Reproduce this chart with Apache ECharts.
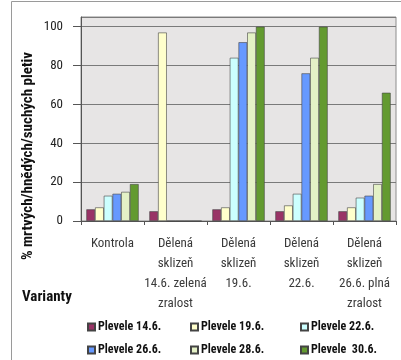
<!DOCTYPE html>
<html>
<head>
<meta charset="utf-8">
<script src="https://cdn.jsdelivr.net/npm/echarts@6/dist/echarts.min.js"></script>
<style>
  html, body { margin: 0; padding: 0; background: #ffffff; }
  #chart { width: 401px; height: 360px; }
</style>
</head>
<body>
<div id="chart"></div>
<script>
// Variants (harvest treatments) on the category axis
const categories = [
  'Kontrola',
  'Dělená\nsklizeň\n14.6. zelená\nzralost',
  'Dělená\nsklizeň\n19.6.',
  'Dělená\nsklizeň\n22.6.',
  'Dělená\nsklizeň\n26.6. plná\nzralost'
];

// Weed assessment dates (series names)
const seriesNames = ['Plevele 14.6.', 'Plevele 19.6.', 'Plevele 22.6.', 'Plevele 26.6.', 'Plevele 28.6.', 'Plevele  30.6.'];

// % of dead / brown / dry tissue per variant
const plevele146 = [6, 5, 6, 5, 5];
const plevele196 = [7, 97, 7, 8, 7];
const plevele226 = [13, 0, 84, 14, 12];
const plevele266 = [14, 0, 92, 76, 13];
const plevele286 = [15, 0, 97, 84, 19];
const plevele306 = [19, 0, 100, 100, 66];

const yTicks = [0, 20, 40, 60, 80, 100];

const seriesValues = [plevele146, plevele196, plevele226, plevele266, plevele286, plevele306];
const seriesColors = ['#993366', '#FFFFCC', '#CCFFFF', '#6699FF', '#E4F1C6', '#639A30'];

const FONT = "'Roboto Condensed', 'Open Sans Condensed', 'Liberation Sans', sans-serif";

const chart = echarts.init(document.getElementById('chart'), null, { renderer: 'canvas' });

// one legend per entry, laid out in a 3 x 2 table
const legendCols = [87, 190, 300];
const legendRows = [321, 344];
const legends = seriesNames.map((name, i) => ({
  data: [name],
  left: legendCols[i % 3],
  top: legendRows[Math.floor(i / 3)],
  itemWidth: 7,
  itemHeight: 7,
  itemGap: 0,
  padding: 0,
  icon: 'rect',
  selectedMode: false,
  textStyle: { fontFamily: FONT, fontWeight: 'bold', fontSize: 12, color: '#111', padding: [0, 0, 0, -2] }
}));

const option = {
  animation: false,
  backgroundColor: '#ffffff',
  textStyle: { fontFamily: FONT },
  grid: {
    left: 81, right: 5, top: 17, bottom: 139,
    show: true,
    backgroundColor: '#E7E5E5',
    borderColor: '#8c8c8c',
    borderWidth: 1
  },
  legend: legends,
  xAxis: {
    type: 'category',
    data: categories,
    axisLine: { show: true, lineStyle: { color: '#555', width: 1 } },
    axisTick: { show: true, length: 4, lineStyle: { color: '#555' } },
    axisLabel: {
      interval: 0,
      margin: 13,
      fontFamily: FONT,
      fontSize: 13,
      lineHeight: 20,
      color: '#3a3a3a',
      align: 'center'
    }
  },
  yAxis: {
    type: 'value',
    min: 0,
    max: 105,
    interval: 20,
    axisLine: { show: true, lineStyle: { color: '#555', width: 1 } },
    axisTick: { show: true, length: 8, lineStyle: { color: '#555' } },
    axisLabel: {
      margin: 18,
      fontFamily: FONT,
      fontSize: 13,
      color: '#222',
      showMaxLabel: false,
      formatter: v => (yTicks.indexOf(v) >= 0 ? String(v) : '')
    },
    splitLine: { show: true, lineStyle: { color: '#7a7a7a', width: 1 } }
  },
  series: seriesNames.map((name, i) => ({
    name: name,
    type: 'bar',
    data: seriesValues[i],
    barGap: '0%',
    barCategoryGap: '17%',
    itemStyle: { color: seriesColors[i], borderColor: '#444', borderWidth: 0.6 }
  })),
  graphic: [
    {
      type: 'rect',
      silent: true,
      shape: { x: 11.5, y: 1.5, width: 600, height: 600 },
      style: { fill: 'none', stroke: '#9a9a9a', lineWidth: 1 }
    },
    {
      type: 'text',
      silent: true,
      x: 28,
      y: 156,
      rotation: Math.PI / 2,
      style: {
        text: '% mrtvých/hnědých/suchých pletiv',
        fontFamily: FONT,
        fontWeight: 'bold',
        fontSize: 15,
        fill: '#111',
        align: 'center',
        verticalAlign: 'middle'
      }
    },
    {
      type: 'text',
      silent: true,
      x: 22,
      y: 297,
      style: {
        text: 'Varianty',
        fontFamily: FONT,
        fontWeight: 'bold',
        fontSize: 15,
        fill: '#111',
        align: 'left',
        verticalAlign: 'middle'
      }
    }
  ]
};

chart.setOption(option);
</script>
</body>
</html>
